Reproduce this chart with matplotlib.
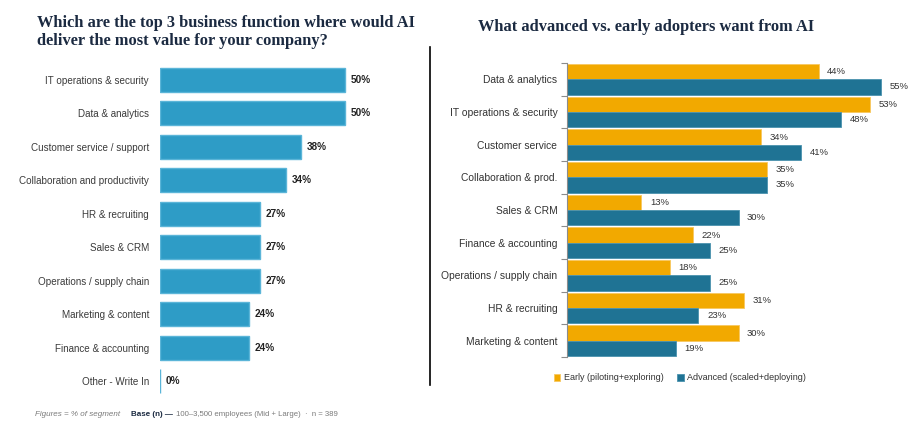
import matplotlib
matplotlib.use("Agg")
import matplotlib.pyplot as plt
import numpy as np

# ---- data ----
left_categories = ["IT operations & security", "Data & analytics", "Customer service / support",
                   "Collaboration and productivity", "HR & recruiting", "Sales & CRM",
                   "Operations / supply chain", "Marketing & content", "Finance & accounting",
                   "Other - Write In"]
left_values = [50, 50, 38, 34, 27, 27, 27, 24, 24, 0]

right_categories = ["Data & analytics", "IT operations & security", "Customer service",
                    "Collaboration & prod.", "Sales & CRM", "Finance & accounting",
                    "Operations / supply chain", "HR & recruiting", "Marketing & content"]
early_values = [44, 53, 34, 35, 13, 22, 18, 31, 30]
advanced_values = [55, 48, 41, 35, 30, 25, 25, 23, 19]

left_title = "Which are the top 3 business function where would AI\ndeliver the most value for your company?"
right_title = "What advanced vs. early adopters want from AI"
legend_labels = ["Early (piloting+exploring)", "Advanced (scaled+deploying)"]

# ---- style ----
W, H = 921, 444
fig = plt.figure(figsize=(W / 100, H / 100), dpi=100)
plt.rcParams['font.family'] = ['Liberation Sans', 'DejaVu Sans']

title_color = "#1B2A41"
label_color = "#3A3A3A"
bar_blue = "#2E9CC6"
early_c = "#F2A900"
adv_c = "#1F7394"

def ax_rect(x0, y0, x1, y1):
    return [x0 / W, 1 - y1 / H, (x1 - x0) / W, (y1 - y0) / H]

# ---- left panel ----
axL = fig.add_axes(ax_rect(160, 63, 382, 398))
yL = np.arange(len(left_categories))
axL.barh(yL, left_values, height=0.72, color=bar_blue, edgecolor="#5BB5D8", linewidth=1.0)
axL.set_ylim(len(left_categories) - 0.5, -0.5)
axL.set_xlim(0, 60)
axL.set_yticks(yL)
axL.set_yticklabels(left_categories, fontsize=7.1, color=label_color)
axL.tick_params(axis='y', length=0, pad=8)
axL.set_xticks([])
for s in axL.spines.values():
    s.set_visible(False)
for y, v in zip(yL, left_values):
    axL.text(v + 1.6, y, f"{v}%", va='center', ha='left', fontsize=7.2,
             fontweight='bold', color="#222222")

fig.text(37 / W, 1 - 32 / H, left_title, ha='left', va='center', fontsize=11.8,
         fontweight='bold', color=title_color, family=['Liberation Serif', 'DejaVu Serif'],
         linespacing=1.2)

# ---- right panel ----
axR = fig.add_axes(ax_rect(567, 63, 910, 357))
n = len(right_categories)
yR = np.arange(n)
bh = 0.46
axR.barh(yR - bh / 2 - 0.005, early_values, height=bh, color=early_c,
         edgecolor="#F7C860", linewidth=0.6, label=legend_labels[0])
axR.barh(yR + bh / 2 + 0.005, advanced_values, height=bh, color=adv_c,
         edgecolor="#4A92AE", linewidth=0.6, label=legend_labels[1])
axR.set_ylim(n - 0.5, -0.5)
axR.set_xlim(0, 60)
axR.set_yticks(yR)
axR.set_yticklabels(right_categories, fontsize=7.4, color="#333333")
axR.tick_params(axis='y', which='major', length=0, pad=7)
axR.set_yticks(np.arange(-0.5, n, 1.0), minor=True)
axR.tick_params(axis='y', which='minor', length=4, color="#8C8C8C", width=0.8, direction='out')
axR.set_xticks([])
for k, s in axR.spines.items():
    s.set_visible(k == 'left')
axR.spines['left'].set_color("#8C8C8C")
axR.spines['left'].set_linewidth(0.8)
for y, v in zip(yR, early_values):
    axR.text(v + 1.5, y - bh / 2, f"{v}%", va='center', ha='left', fontsize=6.8, color="#333333")
for y, v in zip(yR, advanced_values):
    axR.text(v + 1.5, y + bh / 2, f"{v}%", va='center', ha='left', fontsize=6.8, color="#333333")

fig.text(478 / W, 1 - 27 / H, right_title, ha='left', va='center', fontsize=11.8,
         fontweight='bold', color=title_color, family=['Liberation Serif', 'DejaVu Serif'])

leg = fig.legend(loc='center', bbox_to_anchor=(680 / W, 1 - 378 / H), ncol=2, frameon=False,
                 fontsize=6.5, handlelength=0.7, handleheight=0.7, handletextpad=0.4,
                 columnspacing=1.5, labelcolor="#333333")

# ---- divider ----
fig.add_artist(plt.Line2D([430 / W, 430 / W], [1 - 47 / H, 1 - 385 / H], color="black",
                          linewidth=1.2, transform=fig.transFigure))

# ---- footer ----
fy = 1 - 414 / H
t1 = fig.text(35 / W, fy, "Figures = % of segment", ha='left', va='center', fontsize=5.8,
              style='italic', color="#7A7A7A")
fig.canvas.draw()
r = fig.canvas.get_renderer()
bb = t1.get_window_extent(r)
x2 = bb.x1 + 11
t2 = fig.text(x2 / W, fy, "Base (n) \u2014", ha='left', va='center', fontsize=5.8,
              fontweight='bold', color="#1B2A41")
bb2 = t2.get_window_extent(r)
fig.text((bb2.x1 + 3) / W, fy, "100\u20133,500 employees (Mid + Large)  \u00b7  n = 389",
         ha='left', va='center', fontsize=5.6, color="#7A7A7A")

fig.savefig("out.png", dpi=100)
